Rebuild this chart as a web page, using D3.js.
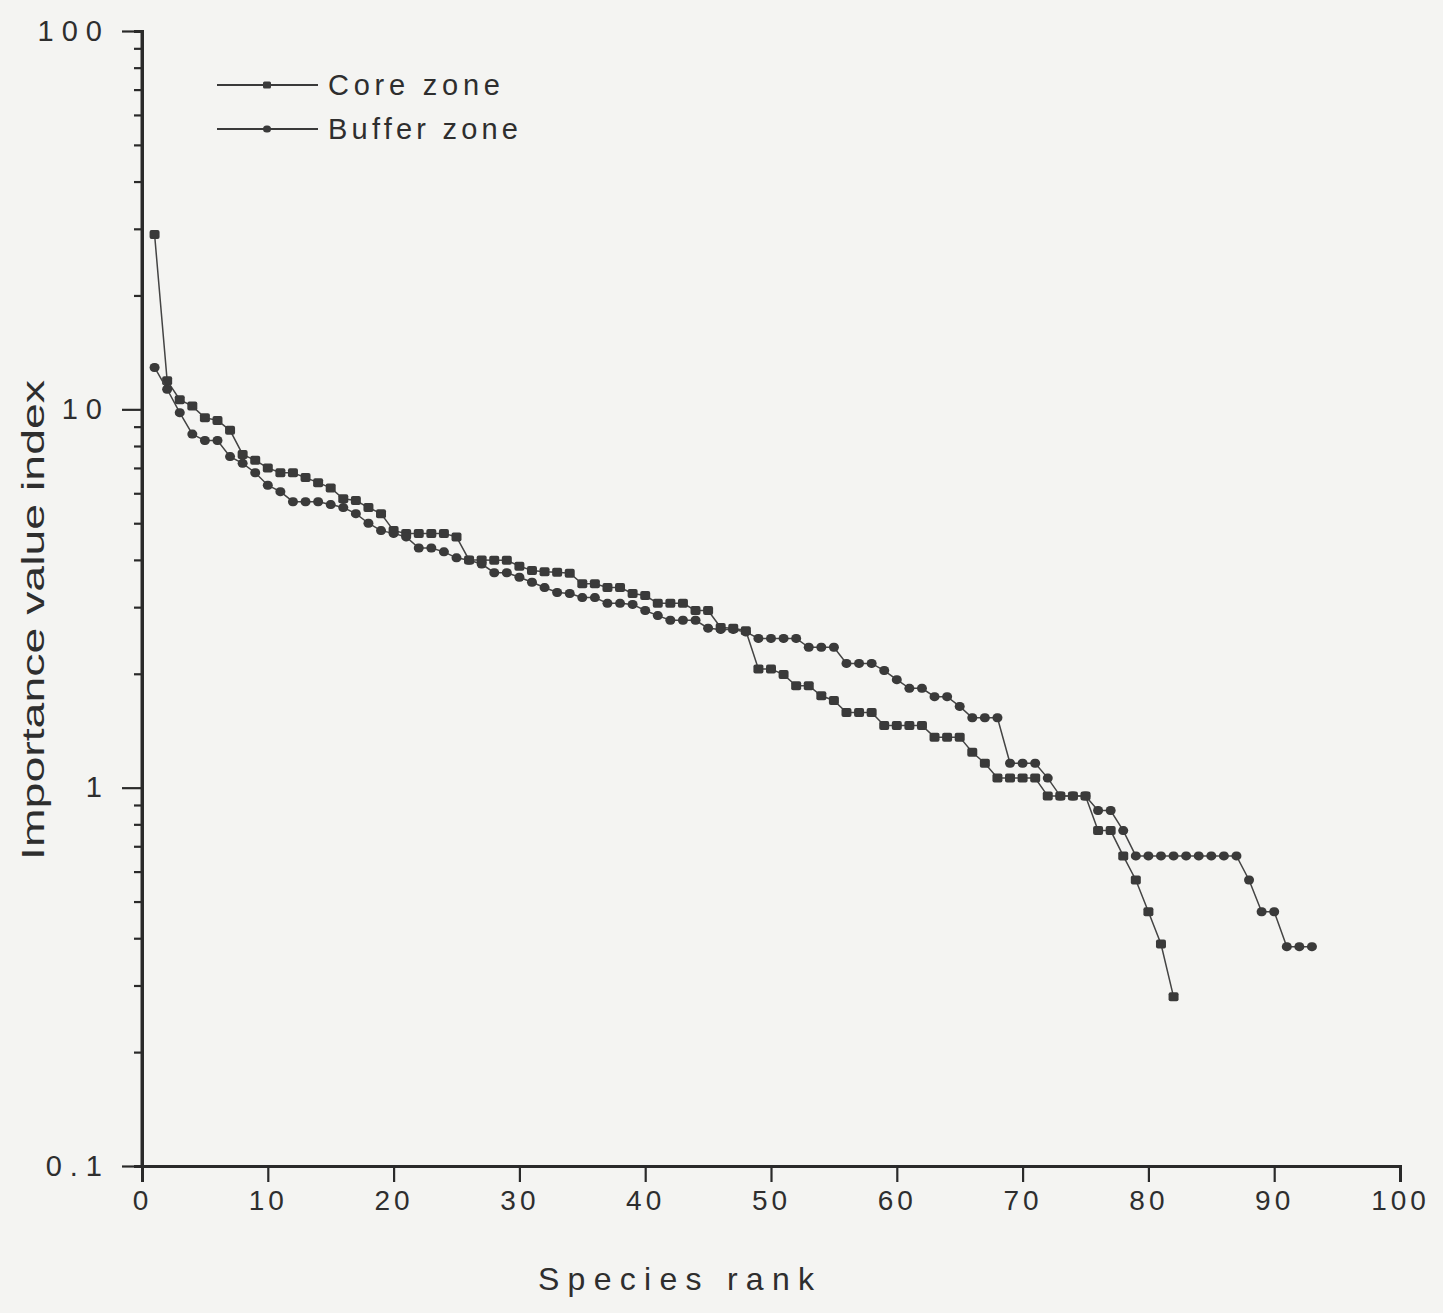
<!DOCTYPE html>
<html>
<head>
<meta charset="utf-8">
<script src="https://cdn.jsdelivr.net/npm/d3@7"></script>
<style>
    body { margin: 0; background: #f4f4f2; }
    text { font-family: "Liberation Sans", Arial, sans-serif; fill: #2e2e2e; }
</style>
</head>
<body>
<div id="chart"></div>
<script>
// Importance value index by species rank (index + 1 = rank)
var coreIVI = [29, 11.9, 10.6, 10.2, 9.5, 9.35, 8.8, 7.6, 7.33, 7.0,
    6.8, 6.8, 6.6, 6.4, 6.2, 5.8, 5.74, 5.5, 5.3, 4.78,
    4.7, 4.7, 4.7, 4.7, 4.6, 4.0, 4.0, 3.99, 3.99, 3.85,
    3.75, 3.72, 3.71, 3.69, 3.46, 3.46, 3.38, 3.38, 3.26, 3.22,
    3.07, 3.07, 3.07, 2.94, 2.94, 2.65, 2.64, 2.6, 2.06, 2.06,
    1.99, 1.86, 1.86, 1.75, 1.7, 1.58, 1.58, 1.58, 1.46, 1.46,
    1.46, 1.46, 1.36, 1.36, 1.36, 1.24, 1.16, 1.06, 1.06, 1.06,
    1.06, 0.95, 0.95, 0.95, 0.95, 0.77, 0.77, 0.66, 0.57, 0.47,
    0.386, 0.28];

var bufferIVI = [12.9, 11.3, 9.8, 8.6, 8.27, 8.27, 7.5, 7.2, 6.8, 6.3,
    6.06, 5.7, 5.7, 5.7, 5.6, 5.5, 5.3, 5.0, 4.78, 4.7,
    4.6, 4.3, 4.3, 4.2, 4.05, 3.99, 3.9, 3.7, 3.7, 3.6,
    3.49, 3.38, 3.28, 3.26, 3.18, 3.18, 3.07, 3.07, 3.05, 2.94,
    2.85, 2.77, 2.77, 2.77, 2.64, 2.62, 2.62, 2.58, 2.48, 2.48,
    2.48, 2.48, 2.35, 2.35, 2.35, 2.13, 2.13, 2.13, 2.04, 1.93,
    1.83, 1.83, 1.74, 1.74, 1.64, 1.53, 1.53, 1.53, 1.16, 1.16,
    1.16, 1.06, 0.95, 0.95, 0.95, 0.87, 0.87, 0.77, 0.66, 0.66,
    0.66, 0.66, 0.66, 0.66, 0.66, 0.66, 0.66, 0.57, 0.47, 0.47,
    0.38, 0.38, 0.38];

var seriesNames = ["Core zone", "Buffer zone"];
var xTicks = [0, 10, 20, 30, 40, 50, 60, 70, 80, 90, 100];
var yTicks = [0.1, 1, 10, 100];
var yTickLabels = ["0.1", "1", "10", "100"];

(function () {
    var width = 1443,
        height = 1313;

    var x = d3.scaleLinear().domain([0, 100]).range([142, 1400]);
    var y = d3.scaleLog().domain([0.1, 100]).range([1166, 31]);

    var svg = d3.select("#chart")
        .append("svg")
        .attr("width", width)
        .attr("height", height);

    svg.append("rect")
        .attr("width", width)
        .attr("height", height)
        .attr("fill", "#f4f4f2");

    // minor ticks on the log axis
    var minor = [];
    [0.1, 1, 10].forEach(function (d) {
        for (var k = 2; k <= 9; k++) minor.push(d * k);
    });

    var yMinor = svg.append("g")
        .attr("transform", "translate(" + x(0) + ",0)")
        .call(d3.axisLeft(y).tickValues(minor).tickSize(8).tickFormat(""));

    var yAxis = svg.append("g")
        .attr("transform", "translate(" + x(0) + ",0)")
        .call(d3.axisLeft(y).tickValues(yTicks).tickSize(20).tickPadding(12)
            .tickFormat(function (d, i) { return yTickLabels[i]; }));

    var xAxis = svg.append("g")
        .attr("transform", "translate(0," + y(0.1) + ")")
        .call(d3.axisBottom(x).tickValues(xTicks).tickSize(16).tickPadding(4));

    [yMinor, yAxis, xAxis].forEach(function (g) {
        g.selectAll("path.domain")
            .attr("stroke", "#2a2a2a")
            .attr("stroke-width", 3);
        g.selectAll(".tick line")
            .attr("stroke", "#2a2a2a")
            .attr("stroke-width", 2.2);
        g.selectAll(".tick text")
            .attr("font-size", "28px")
            .attr("letter-spacing", "4px")
            .style("font-family", "'Liberation Sans', Arial, sans-serif")
            .attr("fill", "#333");
    });
    yAxis.selectAll(".tick text")
        .attr("font-size", "29px")
        .attr("letter-spacing", "8px");
    yAxis.selectAll("path.domain").attr("d", "M0," + y(100) + "V" + y(0.1));
    xAxis.selectAll(".tick text").attr("dy", "0.85em");

    // axis titles
    svg.append("text")
        .attr("x", 676)
        .attr("y", 1290)
        .attr("text-anchor", "middle")
        .attr("font-size", "32px")
        .attr("textLength", 276)
        .attr("lengthAdjust", "spacing")
        .text("Species rank");

    svg.append("text")
        .attr("transform", "translate(44,620) rotate(-90)")
        .attr("text-anchor", "middle")
        .attr("font-size", "32px")
        .attr("textLength", 480)
        .attr("lengthAdjust", "spacingAndGlyphs")
        .text("Importance value index");

    var series = [coreIVI, bufferIVI];
    var line = d3.line()
        .x(function (d, i) { return x(i + 1); })
        .y(function (d) { return y(d); });

    series.forEach(function (values, s) {
        svg.append("path")
            .datum(values)
            .attr("fill", "none")
            .attr("stroke", "#444")
            .attr("stroke-width", 1.5)
            .attr("d", line);

        svg.append("g")
            .selectAll("rect")
            .data(values)
            .enter()
            .append("rect")
            .attr("x", function (d, i) { return x(i + 1) - 5; })
            .attr("y", function (d) { return y(d) - 4.5; })
            .attr("width", 10)
            .attr("height", 9)
            .attr("rx", s === 0 ? 2 : 4.5)
            .attr("fill", "#3a3a3a");
    });

    // legend
    var legend = svg.append("g");
    seriesNames.forEach(function (name, i) {
        var ly = 85 + i * 44;
        legend.append("line")
            .attr("x1", 217).attr("x2", 318)
            .attr("y1", ly).attr("y2", ly)
            .attr("stroke", "#3a3a3a")
            .attr("stroke-width", 2);
        legend.append("rect")
            .attr("x", 263).attr("y", ly - 3.5)
            .attr("width", 8).attr("height", 7)
            .attr("rx", i === 0 ? 1.5 : 3.5)
            .attr("fill", "#3a3a3a");
        legend.append("text")
            .attr("x", 328)
            .attr("y", ly + 10)
            .attr("font-size", "29px")
            .attr("textLength", i === 0 ? 172 : 190)
            .attr("lengthAdjust", "spacing")
            .text(name);
    });
}());
</script>
</body>
</html>
